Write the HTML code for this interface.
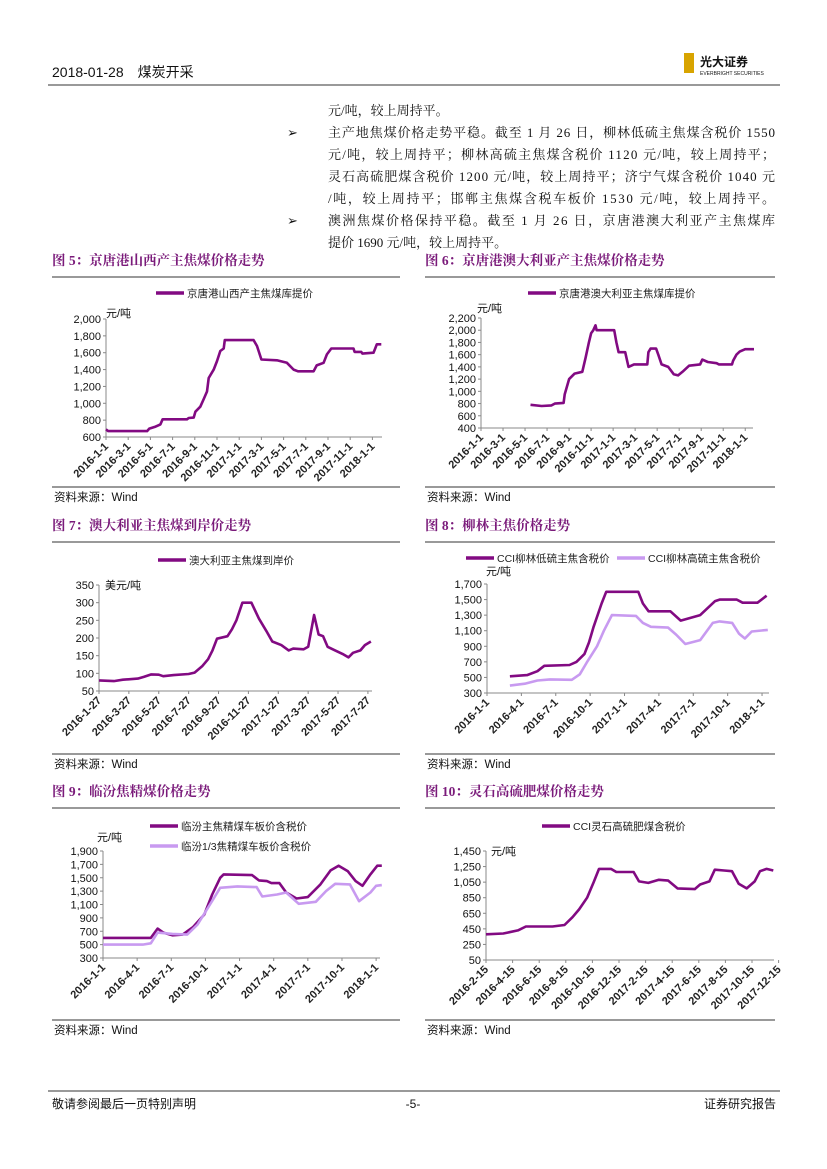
<!DOCTYPE html>
<html><head><meta charset="utf-8">
<style>
html,body{margin:0;padding:0;background:#fff}
svg{display:block}
text{font-family:"Liberation Sans","Noto Sans CJK SC",sans-serif}
.serif text{font-family:"Liberation Serif","Noto Serif CJK SC",serif}
</style></head>
<body>
<svg id="page" width="827" height="1169" viewBox="0 0 827 1169" xmlns="http://www.w3.org/2000/svg">
<g>
<text x="52" y="77" font-size="14" fill="#111">2018-01-28　煤炭开采</text>
<rect x="684" y="53" width="10" height="20" fill="#d8a400"/>
<text x="700" y="66" font-size="12" font-weight="bold" fill="#111">光大证券</text>
<text x="700" y="75" font-size="5" fill="#111">EVERBRIGHT SECURITIES</text>
<line x1="48" y1="85" x2="780" y2="85" stroke="#333" stroke-width="1"/>
</g>
<g class="serif" font-size="13" fill="#111">
<text x="328" y="115">元/吨，较上周持平。</text>
<text x="287" y="137">➢</text>
<text x="328" y="137" textLength="447">主产地焦煤价格走势平稳。截至 1 月 26 日，柳林低硫主焦煤含税价 1550</text>
<text x="328" y="159" textLength="447">元/吨，较上周持平；柳林高硫主焦煤含税价 1120 元/吨，较上周持平；</text>
<text x="328" y="181" textLength="447">灵石高硫肥煤含税价 1200 元/吨，较上周持平；济宁气煤含税价 1040 元</text>
<text x="328" y="203" textLength="447">/吨，较上周持平；邯郸主焦煤含税车板价 1530 元/吨，较上周持平。</text>
<text x="287" y="225">➢</text>
<text x="328" y="225" textLength="447">澳洲焦煤价格保持平稳。截至 1 月 26 日，京唐港澳大利亚产主焦煤库</text>
<text x="328" y="247">提价 1690 元/吨，较上周持平。</text>
</g>
<g id="charts"></g>
<g>
<line x1="48" y1="1091" x2="780" y2="1091" stroke="#333" stroke-width="1"/>
<text x="52" y="1108" font-size="12" fill="#111">敬请参阅最后一页特别声明</text>
<text x="413" y="1108" font-size="12" fill="#111" text-anchor="middle">-5-</text>
<text x="776" y="1108" font-size="12" fill="#111" text-anchor="end">证券研究报告</text>
</g>
</svg>
<script>
// ---- Chart 5 data (x = months since 2016-1-1) ----
const c5Ticks = ["2016-1-1","2016-3-1","2016-5-1","2016-7-1","2016-9-1","2016-11-1","2017-1-1","2017-3-1","2017-5-1","2017-7-1","2017-9-1","2017-11-1","2018-1-1"];
const c5X = [0,0.2,3.7,3.9,4.4,4.9,5.1,7.3,7.45,7.9,8.05,8.5,8.8,9.1,9.25,9.7,10,10.3,10.6,10.7,13.3,13.6,14,15.4,16.3,16.9,17.3,18.7,18.98,19.6,19.9,20.3,22.3,22.4,23,23.1,24.1,24.25,24.4,24.8];
const c5Y = [690,670,670,700,720,750,810,810,825,830,900,960,1050,1140,1300,1400,1500,1620,1650,1750,1750,1680,1520,1510,1480,1400,1380,1380,1450,1480,1580,1650,1650,1610,1610,1590,1600,1650,1700,1700];
const c5YTicks = [600,800,1000,1200,1400,1600,1800,2000];
// ---- Chart 6 data ----
const c6Ticks = c5Ticks;
const c6X = [4.5,5.5,6.4,6.7,7.5,7.6,8,8.5,9.2,9.5,9.8,10,10.2,10.4,10.5,12.1,12.3,12.5,13.1,13.4,13.9,15.1,15.2,15.4,15.9,16.1,16.4,17,17.5,17.9,18.3,18.9,19.9,20.1,20.6,21.4,21.6,22.8,22.9,23.2,23.5,24,24.8];
const c6Y = [780,760,770,800,810,950,1200,1290,1320,1550,1800,1950,2000,2080,2000,2000,1800,1640,1640,1400,1440,1440,1640,1700,1700,1600,1440,1400,1280,1260,1320,1420,1440,1520,1480,1460,1440,1440,1500,1600,1650,1690,1690];
const c6YTicks = [400,600,800,1000,1200,1400,1600,1800,2000,2200];
// ---- Chart 7 data (x = months since 2016-1-27) ----
const c7Ticks = ["2016-1-27","2016-3-27","2016-5-27","2016-7-27","2016-9-27","2016-11-27","2017-1-27","2017-3-27","2017-5-27","2017-7-27"];
const c7X = [0,1,1.6,2.6,3,3.5,4,4.3,5,6,6.4,6.9,7.3,7.6,7.9,8.6,8.9,9.2,9.6,10.2,10.7,11.2,11.6,12.2,12.7,13,13.7,14,14.4,14.7,15,15.3,15.8,16.3,16.7,17,17.5,17.8,18.2];
const c7Y = [80,78,82,85,90,97,96,92,95,98,102,120,140,165,198,205,225,250,300,300,255,220,190,180,165,170,168,175,265,210,205,175,165,155,145,158,165,180,190];
const c7YTicks = [50,100,150,200,250,300,350];
// ---- Chart 8 data (x = months since 2016-1-1) ----
const c8Ticks = ["2016-1-1","2016-4-1","2016-7-1","2016-10-1","2017-1-1","2017-4-1","2017-7-1","2017-10-1","2018-1-1"];
const c8XLow = [2,3.5,4.4,5,7.2,7.8,8.5,8.9,9.3,10,10.4,13.2,13.6,14.1,16,16.9,18.6,19.9,20.3,21.8,22.3,23.6,24.4];
const c8YLow = [515,530,580,650,660,700,800,950,1150,1450,1600,1600,1450,1350,1350,1230,1300,1480,1500,1500,1460,1460,1550];
const c8XHigh = [2,3.3,4.4,5.5,7.4,8.1,8.7,9.6,10.2,10.9,13,13.6,14.3,15.8,16.5,17.3,18.6,19.7,20.3,21.4,22,22.5,23.1,24.5];
const c8YHigh = [395,420,460,475,470,540,690,900,1100,1300,1290,1200,1150,1140,1050,930,980,1200,1220,1200,1060,1000,1090,1110];
const c8YTicks = [300,500,700,900,1100,1300,1500,1700];
// ---- Chart 9 data ----
const c9Ticks = c8Ticks;
const c9XMain = [0,4.2,4.8,5.3,6.1,7,7.9,8.9,9.6,10.3,10.6,13.1,13.7,14.4,14.8,15.5,16.1,17,18,19.1,20,20.7,21.5,22.2,22.8,23.5,24.1,24.5];
const c9YMain = [600,600,740,680,640,650,760,950,1250,1500,1550,1540,1460,1450,1420,1420,1280,1190,1210,1400,1610,1680,1600,1450,1380,1550,1680,1680];
const c9XThird = [0,3.5,4.2,4.8,6.1,7.4,8.3,9.4,10.3,11.8,13.5,14,15.3,16.1,17.2,18.7,19.6,20.4,21.7,22.5,23.5,24,24.5];
const c9YThird = [500,500,520,680,660,650,800,1100,1350,1370,1360,1220,1250,1280,1110,1140,1300,1410,1400,1150,1280,1380,1390];
const c9YTicks = [300,500,700,900,1100,1300,1500,1700,1900];
// ---- Chart 10 data (x = months since 2016-2-15) ----
const c10Ticks = ["2016-2-15","2016-4-15","2016-6-15","2016-8-15","2016-10-15","2016-12-15","2017-2-15","2017-4-15","2017-6-15","2017-8-15","2017-10-15","2017-12-15"];
const c10X = [0,1.3,2.4,3,5,5.9,6.5,7,7.6,8.1,8.5,9.4,9.8,11.1,11.5,12.2,13,13.7,14.4,15.7,16.1,16.8,17.2,17.9,18.5,19,19.6,20.2,20.6,21.1,21.6];
const c10Y = [380,390,430,480,480,500,600,700,850,1050,1220,1220,1180,1180,1060,1040,1080,1070,970,960,1020,1060,1210,1200,1190,1030,970,1060,1190,1220,1200];
const c10YTicks = [50,250,450,650,850,1050,1250,1450];

const DARK = "#820a82", LIGHT = "#c89af0", TITLE = "#7a1a7a";
const NS = "http://www.w3.org/2000/svg";
const root = document.getElementById("charts");
function el(tag, attrs, parent, txt){
  const e = document.createElementNS(NS, tag);
  for (const k in attrs) e.setAttribute(k, attrs[k]);
  if (txt !== undefined) e.textContent = txt;
  (parent || root).appendChild(e);
  return e;
}
function panel(p){
  const g = el("g", {});
  
  
  const t = el("text", {x:p.px, y:p.titleY, "font-size":13.5, "font-weight":"bold", fill:TITLE, style:'font-family:"Liberation Serif","Noto Serif CJK SC",serif'}, g, p.title);
  
  
  el("line", {x1:p.px, y1:p.titleY+12, x2:p.px2, y2:p.titleY+12, stroke:"#333", "stroke-width":1}, g);
  el("line", {x1:p.px, y1:p.srcY-10, x2:p.px2, y2:p.srcY-10, stroke:"#333", "stroke-width":1}, g);
  const s = el("text", {x:p.px+2, y:p.srcY+4, "font-size":11.5, fill:"#111"}, g, "资料来源：Wind");
  
  
  const xs = v => p.x0 + (v - p.t0) * p.pxPerUnit;
  const ys = v => p.yb - (v - p.yMin) / (p.yMax - p.yMin) * (p.yb - p.yt);
  const ya = el("line", {x1:p.x0, y1:p.yt, x2:p.x0, y2:p.yb, stroke:"#888", "stroke-width":1}, g);
  
  
  const xa = el("line", {x1:p.x0, y1:p.yb, x2:p.xEnd, y2:p.yb, stroke:"#888", "stroke-width":1}, g);
  
  
  p.yTicks.forEach(v => {
    const yy = ys(v);
    el("line", {x1:p.x0-3, y1:yy, x2:p.x0, y2:yy, stroke:"#888"}, g);
    const lbl = el("text", {x:p.x0-5, y:yy+4, "font-size":11, fill:"#111", "text-anchor":"end"}, g, v >= 1000 ? v.toLocaleString("en-US") : String(v));
    
    
  });
  p.xTicks.forEach((lab, i) => {
    const xx = xs(p.t0 + i * p.tickStep);
    el("line", {x1:xx, y1:p.yb, x2:xx, y2:p.yb+3, stroke:"#888"}, g);
    const lbl = el("text", {x:xx+3, y:p.yb+10, "font-size":11, "font-weight":"bold", fill:"#222", "text-anchor":"end", transform:`rotate(-45 ${xx+3} ${p.yb+10})`}, g, lab);
    
    
  });
  const u = el("text", {x:p.unitX, y:p.unitY, "font-size":11, fill:"#111"}, g, p.unit);
  
  
  p.series.forEach(sr => {
    const d = sr.x.map((v, i) => (i ? "L" : "M") + xs(v).toFixed(1) + " " + ys(sr.y[i]).toFixed(1)).join(" ");
    const path = el("path", {d, fill:"none", stroke:sr.color, "stroke-width":2.6, "stroke-linejoin":"round"}, g);
    
    
    el("line", {x1:sr.lx, y1:sr.ly, x2:sr.lx+28, y2:sr.ly, stroke:sr.color, "stroke-width":3.5}, g);
    const lt = el("text", {x:sr.lx+31, y:sr.ly+4, "font-size":10.5, fill:"#222"}, g, sr.label);
    
    
  });
}
panel({name:"chart-fig5", title:"图 5：京唐港山西产主焦煤价格走势", px:52, px2:400, titleY:265, srcY:497,
  x0:106, xEnd:382, t0:0, pxPerUnit:11.1, tickStep:2, xTicks:c5Ticks, yt:319, yb:437, yMin:600, yMax:2000, yTicks:c5YTicks,
  unit:"元/吨", unitX:106, unitY:317,
  series:[{name:"series-shanxi-coking-coal", x:c5X, y:c5Y, color:DARK, label:"京唐港山西产主焦煤库提价", lx:156, ly:293}]});
panel({name:"chart-fig6", title:"图 6：京唐港澳大利亚产主焦煤价格走势", px:425, px2:775, titleY:265, srcY:497,
  x0:481, xEnd:753, t0:0, pxPerUnit:11.01, tickStep:2, xTicks:c6Ticks, yt:318, yb:428, yMin:400, yMax:2200, yTicks:c6YTicks,
  unit:"元/吨", unitX:477, unitY:312,
  series:[{name:"series-australia-coking-coal", x:c6X, y:c6Y, color:DARK, label:"京唐港澳大利亚主焦煤库提价", lx:528, ly:293}]});
panel({name:"chart-fig7", title:"图 7：澳大利亚主焦煤到岸价走势", px:52, px2:400, titleY:530, srcY:764,
  x0:99, xEnd:372, t0:0, pxPerUnit:14.94, tickStep:2, xTicks:c7Ticks, yt:585, yb:691, yMin:50, yMax:350, yTicks:c7YTicks,
  unit:"美元/吨", unitX:105, unitY:589,
  series:[{name:"series-australia-cif", x:c7X, y:c7Y, color:DARK, label:"澳大利亚主焦煤到岸价", lx:158, ly:560}]});
panel({name:"chart-fig8", title:"图 8：柳林主焦价格走势", px:425, px2:775, titleY:530, srcY:764,
  x0:487, xEnd:769, t0:0, pxPerUnit:11.46, tickStep:3, xTicks:c8Ticks, yt:584, yb:693, yMin:300, yMax:1700, yTicks:c8YTicks,
  unit:"元/吨", unitX:486, unitY:575,
  series:[{name:"series-liulin-low-sulfur", x:c8XLow, y:c8YLow, color:DARK, label:"CCI柳林低硫主焦含税价", lx:466, ly:558},
          {name:"series-liulin-high-sulfur", x:c8XHigh, y:c8YHigh, color:LIGHT, label:"CCI柳林高硫主焦含税价", lx:617, ly:558}]});
panel({name:"chart-fig9", title:"图 9：临汾焦精煤价格走势", px:52, px2:400, titleY:796, srcY:1030,
  x0:103, xEnd:380, t0:0, pxPerUnit:11.38, tickStep:3, xTicks:c9Ticks, yt:851, yb:958, yMin:300, yMax:1900, yTicks:c9YTicks,
  unit:"元/吨", unitX:97, unitY:841,
  series:[{name:"series-linfen-main", x:c9XMain, y:c9YMain, color:DARK, label:"临汾主焦精煤车板价含税价", lx:150, ly:826},
          {name:"series-linfen-third", x:c9XThird, y:c9YThird, color:LIGHT, label:"临汾1/3焦精煤车板价含税价", lx:150, ly:846}]});
panel({name:"chart-fig10", title:"图 10：灵石高硫肥煤价格走势", px:425, px2:775, titleY:796, srcY:1030,
  x0:486, xEnd:774, t0:0, pxPerUnit:13.3, tickStep:2, xTicks:c10Ticks, yt:851, yb:960, yMin:50, yMax:1450, yTicks:c10YTicks,
  unit:"元/吨", unitX:491, unitY:855,
  series:[{name:"series-lingshi-fat-coal", x:c10X, y:c10Y, color:DARK, label:"CCI灵石高硫肥煤含税价", lx:542, ly:826}]});
</script>
</body></html>
